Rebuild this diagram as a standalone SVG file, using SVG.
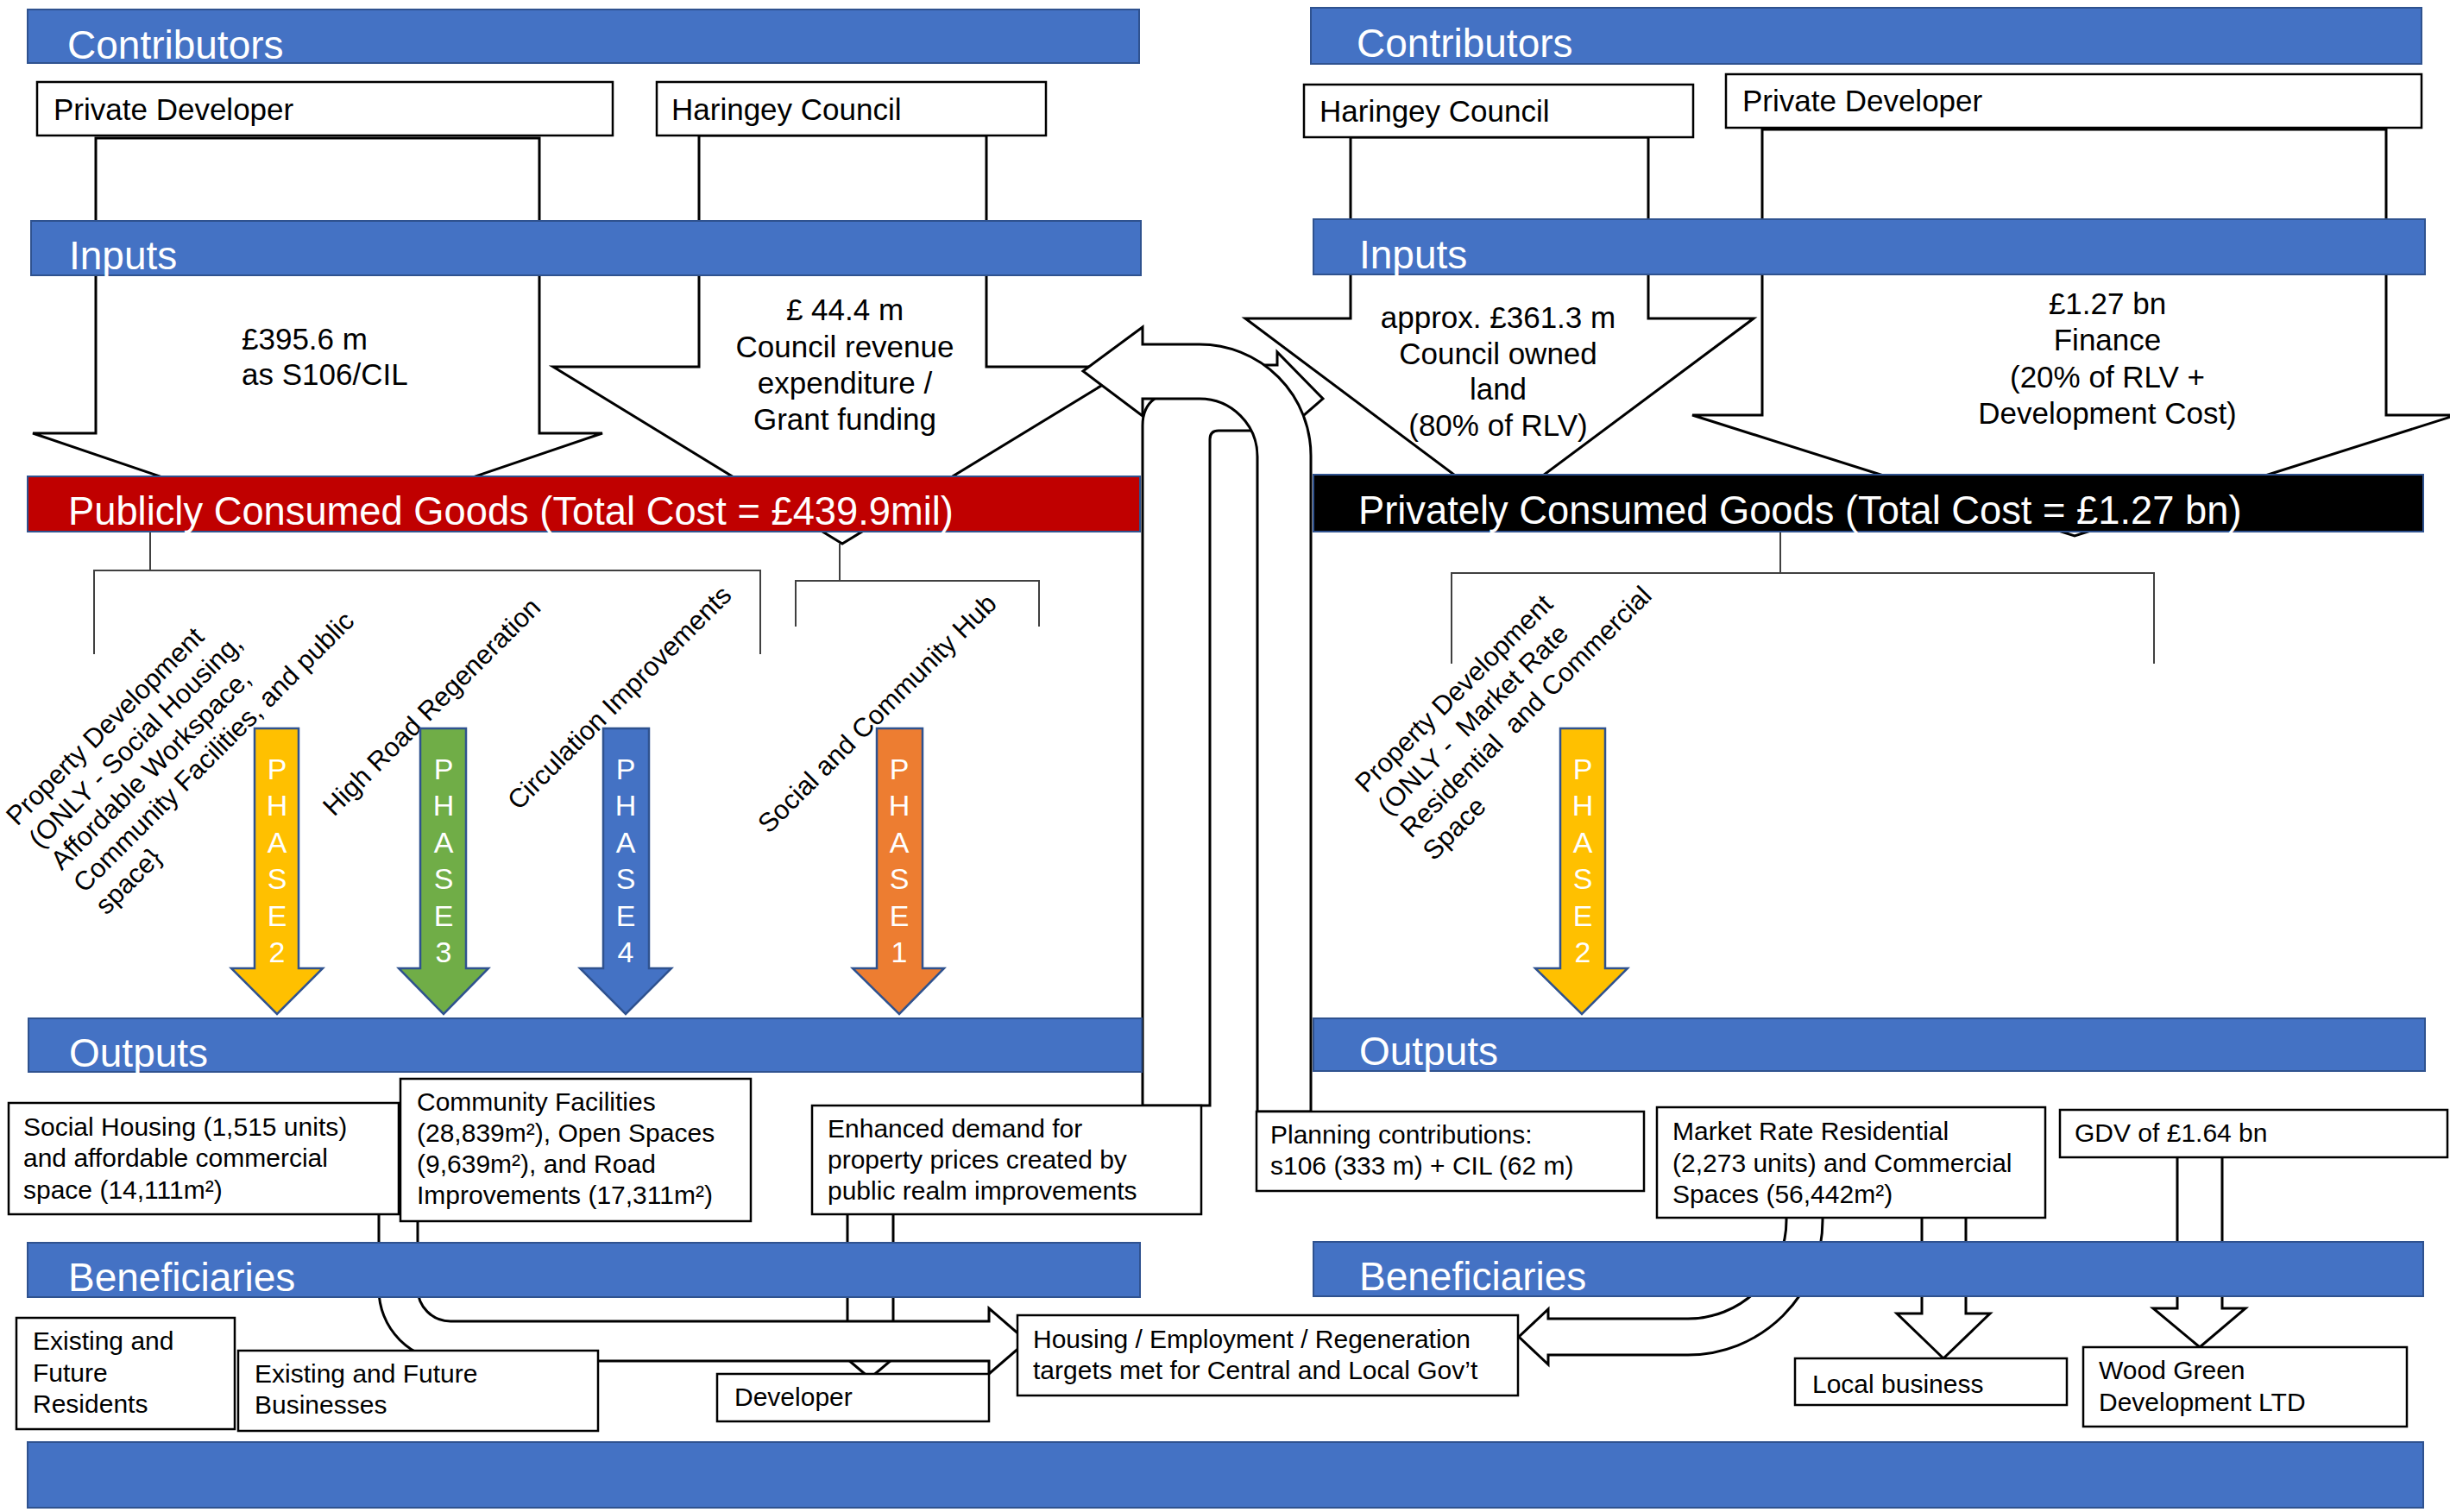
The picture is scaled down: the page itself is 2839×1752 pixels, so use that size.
<svg xmlns="http://www.w3.org/2000/svg" width="2839" height="1752" viewBox="0 0 2839 1752">
<defs>
<style>
text{font-family:"Liberation Sans",Arial,Helvetica,sans-serif;fill:#000}
.bar{fill:#4472C4;stroke:#2F528F;stroke-width:2}
.bl{fill:#fff;font-size:46px}
.bw{fill:#fff;font-size:45.3px}
.box{fill:#fff;stroke:#000;stroke-width:2.5}
.t35{font-size:35px}
.t30{font-size:30px}
.t31{font-size:31px}
.blk{fill:#fff;stroke:#000;stroke-width:3;stroke-linejoin:miter}
.br{fill:none;stroke:#404040;stroke-width:2}
.ph{stroke:#2F528F;stroke-width:2.5}
.pt{fill:#fff;font-size:34px;text-anchor:middle}
.mid{text-anchor:middle}
</style>
</defs>
<rect x="0" y="0" width="2839" height="1752" fill="#fff"/>

<g id="connectors">
  <path class="blk" d="M111 160 H625 V502 H698 L368 614 L38 502 H111 Z"/>
  <path class="blk" d="M810 157 H1143 V425 H1312 L976 630 L641 425 H810 Z"/>
  <path class="blk" d="M1565 159 H1910 V369 H2032 L1737 589 L1443 369 H1565 Z"/>
  <path class="blk" d="M2042 150 H2765 V481 H2846 L2404 621 L1961 481 H2042 Z"/>
  <path class="br" d="M174 616 V661 M109 758 V661 H881 V758"/>
  <path class="br" d="M973 630 V673 M922 726 V673 H1204 V726"/>
  <path class="br" d="M2063 616 V664 M1682 769 V664 H2496 V769"/>
  <path class="blk" d="M982 1405 H1035 V1553 H1060 L1008 1597 L956 1553 H982 Z"/>
  <path class="blk" d="M439 1405 V1494 A83 83 0 0 0 522 1577 H1146 V1592 L1190 1554 L1146 1516 V1531 H522 A38 38 0 0 1 484 1493 V1405 Z"/>
  <path class="blk" d="M2070 1409 V1414 A114 114 0 0 1 1956 1528 H1794 V1517 L1760 1549 L1794 1581 V1570 H1956 A156 156 0 0 0 2112 1414 V1409 Z"/>
  <path class="blk" d="M2227 1409 H2278 V1522 H2306 L2252 1574 L2198 1522 H2227 Z"/>
  <path class="blk" d="M2523 1339 H2575 V1516 H2602 L2549 1561 L2495 1516 H2523 Z"/>
  <path class="blk" d="M1324 1281 V493 Q1324 472 1338 462 L1400 428 L1463 423 H1480 V408 L1533 462 L1510 482 L1450 499 H1412 Q1402 499 1402 509 V1281 Z"/>
  <path class="blk" d="M1457 1288 V529 A67 67 0 0 0 1390 462 H1324 V482 L1255 430 L1324 379 V399 H1390 A129 129 0 0 1 1519 529 V1288 Z"/>
</g>

<g id="bars-left">
  <g id="bar-contributors-l"><rect class="bar" x="32" y="11" width="1288" height="62"/><text class="bl" x="78" y="68">Contributors</text></g>
  <g id="bar-inputs-l"><rect class="bar" x="36" y="256" width="1286" height="63"/><text class="bl" x="80" y="312">Inputs</text></g>
  <g id="bar-public"><rect x="32" y="552" width="1289" height="64" fill="#C00000" stroke="#2F528F" stroke-width="2"/><text class="bw" x="79" y="608">Publicly Consumed Goods (Total Cost = £439.9mil)</text></g>
  <g id="bar-outputs-l"><rect class="bar" x="33" y="1180" width="1290" height="62"/><text class="bl" x="80" y="1236">Outputs</text></g>
  <g id="bar-beneficiaries-l"><rect class="bar" x="32" y="1440" width="1289" height="63"/><text class="bl" x="79" y="1496">Beneficiaries</text></g>
</g>
<g id="bars-right">
  <g id="bar-contributors-r"><rect class="bar" x="1519" y="9" width="1287" height="65"/><text class="bl" x="1572" y="66">Contributors</text></g>
  <g id="bar-inputs-r"><rect class="bar" x="1522" y="254" width="1288" height="64"/><text class="bl" x="1575" y="311">Inputs</text></g>
  <g id="bar-private"><rect x="1522" y="550" width="1286" height="66" fill="#000" stroke="#2F528F" stroke-width="2"/><text class="bw" x="1574" y="607">Privately Consumed Goods (Total Cost = £1.27 bn)</text></g>
  <g id="bar-outputs-r"><rect class="bar" x="1522" y="1180" width="1288" height="61"/><text class="bl" x="1575" y="1234">Outputs</text></g>
  <g id="bar-beneficiaries-r"><rect class="bar" x="1522" y="1439" width="1286" height="63"/><text class="bl" x="1575" y="1495">Beneficiaries</text></g>
</g>
<g id="bar-bottom"><rect class="bar" x="32" y="1671" width="2776" height="76"/></g>

<g id="private-developer-l"><rect class="box" x="43" y="95" width="667" height="62"/><text class="t35" x="62" y="139">Private Developer</text></g>
<g id="haringey-council-l"><rect class="box" x="761" y="95" width="451" height="62"/><text class="t35" x="778" y="139">Haringey Council</text></g>
<g id="haringey-council-r"><rect class="box" x="1511" y="98" width="451" height="61"/><text class="t35" x="1529" y="141">Haringey Council</text></g>
<g id="private-developer-r"><rect class="box" x="2000" y="86" width="806" height="62"/><text class="t35" x="2019" y="129">Private Developer</text></g>

<g id="input-s106"><text class="t35" x="280" y="405">£395.6 m</text><text class="t35" x="280" y="446">as S106/CIL</text></g>
<g id="input-council"><text class="t35 mid" x="979" y="371">£ 44.4 m</text><text class="t35 mid" x="979" y="414">Council revenue</text><text class="t35 mid" x="979" y="456">expenditure /</text><text class="t35 mid" x="979" y="498">Grant funding</text></g>
<g id="input-land"><text class="t35 mid" x="1736" y="380">approx. £361.3 m</text><text class="t35 mid" x="1736" y="422">Council owned</text><text class="t35 mid" x="1736" y="463">land</text><text class="t35 mid" x="1736" y="505">(80% of RLV)</text></g>
<g id="input-finance"><text class="t35 mid" x="2442" y="364">£1.27 bn</text><text class="t35 mid" x="2442" y="406">Finance</text><text class="t35 mid" x="2442" y="449">(20% of RLV +</text><text class="t35 mid" x="2442" y="491">Development Cost)</text></g>

<g id="cat-property-public"><text class="t31" transform="translate(20,958) rotate(-45)"><tspan x="0" y="0">Property Development</tspan><tspan x="0" y="37">(ONLY - Social Housing,</tspan><tspan x="0" y="73">Affordable Workspace,</tspan><tspan x="0" y="110">Community Facilities, and public</tspan><tspan x="0" y="146">space}</tspan></text></g>
<g id="cat-high-road"><text class="t31" transform="translate(387,947) rotate(-45)">High Road Regeneration</text></g>
<g id="cat-circulation"><text class="t31" transform="translate(601,940) rotate(-45)">Circulation Improvements</text></g>
<g id="cat-social-hub"><text class="t31" transform="translate(891,967) rotate(-45)">Social and Community Hub</text></g>
<g id="cat-property-private"><text class="t31" xml:space="preserve" transform="translate(1583,920) rotate(-45)"><tspan x="0" y="0">Property Development</tspan><tspan x="0" y="37">(ONLY -  Market Rate</tspan><tspan x="0" y="74">Residential  and Commercial</tspan><tspan x="0" y="111">Space</tspan></text></g>

<g id="phase2-l"><path class="ph" fill="#FFC000" d="M295 844 H346 V1122 H374 L321 1175 L268 1122 H295 Z"/><text class="pt"><tspan x="321" y="903">P</tspan><tspan x="321" y="945">H</tspan><tspan x="321" y="988">A</tspan><tspan x="321" y="1030">S</tspan><tspan x="321" y="1073">E</tspan><tspan x="321" y="1115">2</tspan></text></g>
<g id="phase3"><path class="ph" fill="#70AD47" d="M487 844 H540 V1122 H566 L514 1175 L462 1122 H487 Z"/><text class="pt"><tspan x="514" y="903">P</tspan><tspan x="514" y="945">H</tspan><tspan x="514" y="988">A</tspan><tspan x="514" y="1030">S</tspan><tspan x="514" y="1073">E</tspan><tspan x="514" y="1115">3</tspan></text></g>
<g id="phase4"><path class="ph" fill="#4472C4" d="M699 844 H752 V1122 H778 L725 1175 L672 1122 H699 Z"/><text class="pt"><tspan x="725" y="903">P</tspan><tspan x="725" y="945">H</tspan><tspan x="725" y="988">A</tspan><tspan x="725" y="1030">S</tspan><tspan x="725" y="1073">E</tspan><tspan x="725" y="1115">4</tspan></text></g>
<g id="phase1"><path class="ph" fill="#ED7D31" d="M1016 844 H1069 V1122 H1094 L1042 1175 L988 1122 H1016 Z"/><text class="pt"><tspan x="1042" y="903">P</tspan><tspan x="1042" y="945">H</tspan><tspan x="1042" y="988">A</tspan><tspan x="1042" y="1030">S</tspan><tspan x="1042" y="1073">E</tspan><tspan x="1042" y="1115">1</tspan></text></g>
<g id="phase2-r"><path class="ph" fill="#FFC000" d="M1808 844 H1860 V1122 H1886 L1833 1175 L1779 1122 H1808 Z"/><text class="pt"><tspan x="1834" y="903">P</tspan><tspan x="1834" y="945">H</tspan><tspan x="1834" y="988">A</tspan><tspan x="1834" y="1030">S</tspan><tspan x="1834" y="1073">E</tspan><tspan x="1834" y="1115">2</tspan></text></g>

<g id="out-social-housing"><rect class="box" x="10" y="1278" width="452" height="129"/><text class="t30"><tspan x="27" y="1316">Social Housing (1,515 units)</tspan><tspan x="27" y="1352">and affordable commercial</tspan><tspan x="27" y="1389">space (14,111m²)</tspan></text></g>
<g id="out-community"><rect class="box" x="464" y="1250" width="406" height="165"/><text class="t30"><tspan x="483" y="1287">Community Facilities</tspan><tspan x="483" y="1323">(28,839m²), Open Spaces</tspan><tspan x="483" y="1359">(9,639m²), and Road</tspan><tspan x="483" y="1395">Improvements (17,311m²)</tspan></text></g>
<g id="out-enhanced"><rect class="box" x="941" y="1281" width="451" height="126"/><text class="t30"><tspan x="959" y="1318">Enhanced demand for</tspan><tspan x="959" y="1354">property prices created by</tspan><tspan x="959" y="1390">public realm improvements</tspan></text></g>
<g id="out-planning"><rect class="box" x="1456" y="1288" width="449" height="92"/><text class="t30"><tspan x="1472" y="1325">Planning contributions:</tspan><tspan x="1472" y="1361">s106 (333 m) + CIL (62 m)</tspan></text></g>
<g id="out-market"><rect class="box" x="1920" y="1283" width="450" height="128"/><text class="t30"><tspan x="1938" y="1321">Market Rate Residential</tspan><tspan x="1938" y="1358">(2,273 units) and Commercial</tspan><tspan x="1938" y="1394">Spaces (56,442m²)</tspan></text></g>
<g id="out-gdv"><rect class="box" x="2387" y="1286" width="449" height="55"/><text class="t30" x="2404" y="1323">GDV of £1.64 bn</text></g>

<g id="ben-residents"><rect class="box" x="19" y="1527" width="253" height="129"/><text class="t30"><tspan x="38" y="1564">Existing and</tspan><tspan x="38" y="1601">Future</tspan><tspan x="38" y="1637">Residents</tspan></text></g>
<g id="ben-businesses"><rect class="box" x="276" y="1565" width="417" height="93"/><text class="t30"><tspan x="295" y="1602">Existing and Future</tspan><tspan x="295" y="1638">Businesses</tspan></text></g>
<g id="ben-developer"><rect class="box" x="831" y="1592" width="315" height="55"/><text class="t30" x="851" y="1629">Developer</text></g>
<g id="ben-targets"><rect class="box" x="1179" y="1524" width="580" height="93"/><text class="t30"><tspan x="1197" y="1562">Housing / Employment / Regeneration</tspan><tspan x="1197" y="1598">targets met for Central and Local Gov’t</tspan></text></g>
<g id="ben-local-business"><rect class="box" x="2080" y="1574" width="315" height="54"/><text class="t30" x="2100" y="1614">Local business</text></g>
<g id="ben-wood-green"><rect class="box" x="2414" y="1561" width="375" height="92"/><text class="t30"><tspan x="2432" y="1598">Wood Green</tspan><tspan x="2432" y="1635">Development LTD</tspan></text></g>
</svg>
